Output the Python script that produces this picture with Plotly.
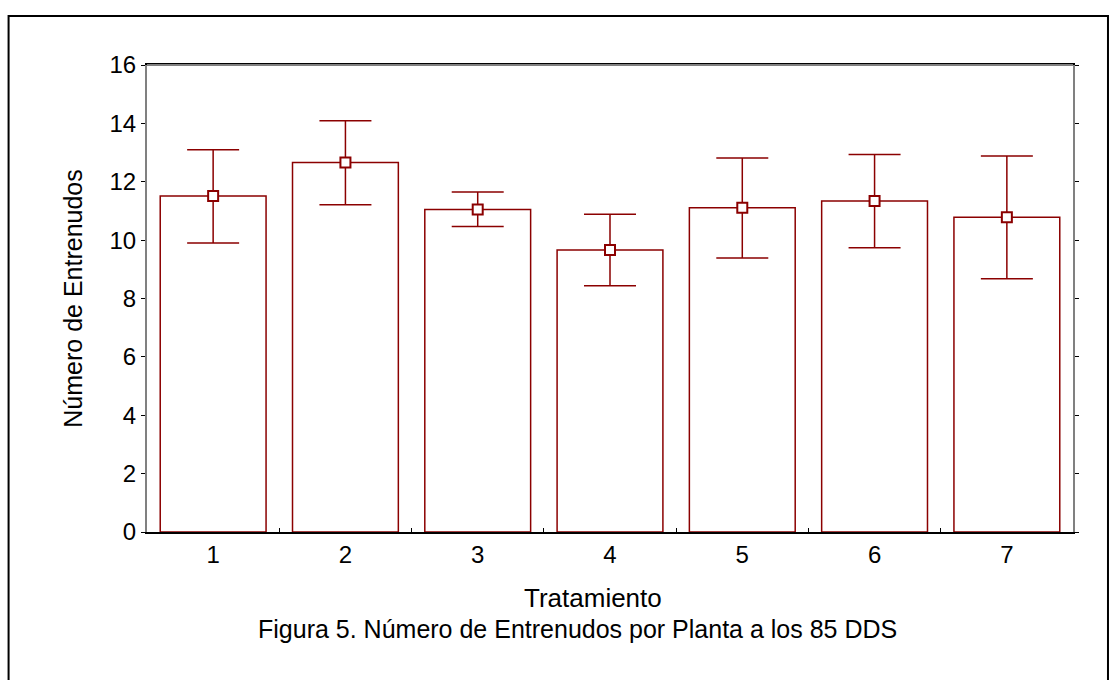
import plotly.graph_objects as go

tratamientos = [1, 2, 3, 4, 5, 6, 7]
medias = [11.51, 12.66, 11.05, 9.66, 11.11, 11.34, 10.78]
limite_sup = [13.10, 14.09, 11.65, 10.89, 12.81, 12.93, 12.88]
limite_inf = [9.90, 11.21, 10.47, 8.44, 9.39, 9.74, 8.68]
y_ticks = [0, 2, 4, 6, 8, 10, 12, 14, 16]
x_minor = [1.5, 2.5, 3.5, 4.5, 5.5, 6.5]

RED = "#8B0000"
FONT = "Liberation Sans, Arial, sans-serif"

err_up = [u - m for u, m in zip(limite_sup, medias)]
err_dn = [m - l for m, l in zip(medias, limite_inf)]

fig = go.Figure()
fig.add_trace(go.Bar(
    x=tratamientos, y=medias, width=0.8,
    marker=dict(color="white", line=dict(color=RED, width=1.5)),
    showlegend=False, hoverinfo="skip"))
fig.add_trace(go.Scatter(
    x=tratamientos, y=medias, mode="markers",
    marker=dict(symbol="square", size=10, color="white", line=dict(color=RED, width=2)),
    error_y=dict(type="data", symmetric=False, array=err_up, arrayminus=err_dn,
                 color=RED, thickness=1.5, width=26),
    showlegend=False))

fig.update_layout(
    width=1109, height=680,
    margin=dict(l=146.5, r=36, t=64.5, b=148),
    paper_bgcolor="white", plot_bgcolor="white",
    font=dict(family=FONT, size=24, color="black"),
    xaxis=dict(range=[0.5, 7.5], tickvals=tratamientos, ticktext=[str(t) for t in tratamientos],
               ticks="", showline=True, linecolor="black", linewidth=2, mirror=True,
               showgrid=False, zeroline=False, tickfont=dict(size=24),
               minor=dict(tickvals=x_minor, ticks="inside", ticklen=4, tickcolor="black")),
    yaxis=dict(range=[0, 16], tickvals=y_ticks, ticks="outside", ticklen=4, tickcolor="black",
               showline=True, linecolor="#808080", linewidth=2, mirror="ticks",
               showgrid=False, zeroline=False, tickfont=dict(size=24),
               title=dict(text="Número de Entrenudos", font=dict(size=25), standoff=20)),
    shapes=[
        dict(type="line", xref="paper", yref="paper", x0=0, x1=1, y0=1, y1=1,
             line=dict(color="#808080", width=2), layer="above"),
        dict(type="rect", xref="paper", yref="paper",
             x0=(8 - 146.5) / 926.5, x1=(1108 - 146.5) / 926.5,
             y0=(532 - 700) / 467.5, y1=(532 - 15.5) / 467.5,
             line=dict(color="black", width=2), fillcolor="rgba(0,0,0,0)", layer="above"),
    ],
    annotations=[
        dict(text="Tratamiento", xref="paper", yref="paper", x=(593 - 146.5) / 926.5,
             y=(532 - 598) / 467.5, showarrow=False, font=dict(size=26),
             xanchor="center", yanchor="middle"),
        dict(text="Figura 5. Número de Entrenudos por Planta a los 85 DDS",
             xref="paper", yref="paper", x=(577 - 146.5) / 926.5,
             y=(532 - 629) / 467.5, showarrow=False, font=dict(size=25),
             xanchor="center", yanchor="middle")],
)

fig.write_html("out.html")
